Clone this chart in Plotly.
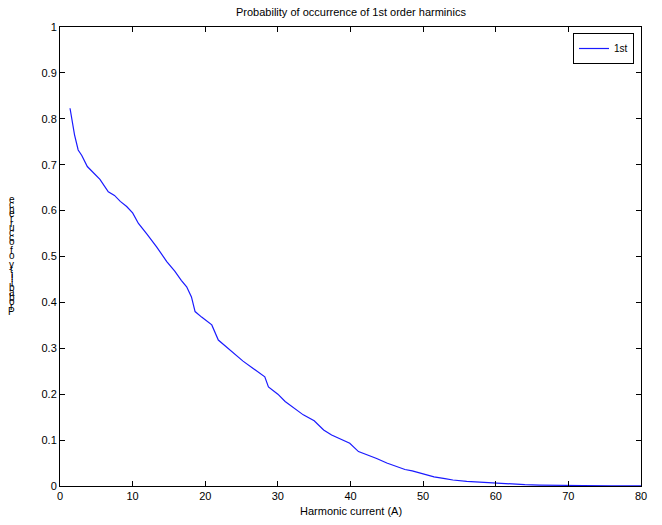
import plotly.graph_objects as go

current = [1.38, 2.0, 2.5, 3.0, 3.76, 4.5, 5.5, 6.65, 7.5, 8.3, 9.18, 10.0, 10.8, 12.0, 13.3, 14.7, 15.8, 16.7, 17.44, 18.1, 18.6, 19.5, 20.9, 21.8, 22.8, 23.9, 25.2, 26.6, 27.5, 28.2, 28.7, 30.0, 31.0, 32.2, 33.5, 35.0, 36.3, 37.4, 38.6, 39.9, 41.1, 42.3, 43.6, 45.0, 46.4, 47.5, 48.5, 50.0, 51.5, 53.0, 54.1, 56.0, 58.0, 60.2, 62.0, 64.0, 66.0, 68.4, 72.0, 76.0, 80.0]
prob = [0.823, 0.765, 0.732, 0.72, 0.696, 0.685, 0.668, 0.641, 0.633, 0.62, 0.609, 0.595, 0.572, 0.548, 0.521, 0.489, 0.468, 0.448, 0.434, 0.412, 0.38, 0.368, 0.351, 0.318, 0.305, 0.289, 0.272, 0.256, 0.245, 0.238, 0.216, 0.2, 0.184, 0.17, 0.155, 0.142, 0.122, 0.111, 0.103, 0.093, 0.075, 0.068, 0.06, 0.05, 0.042, 0.036, 0.033, 0.027, 0.02, 0.016, 0.013, 0.01, 0.008, 0.006, 0.004, 0.003, 0.002, 0.001, 0.001, 0.0005, 0.0005]

x_ticks = [0, 10, 20, 30, 40, 50, 60, 70, 80]
y_ticks = [0, 0.1, 0.2, 0.3, 0.4, 0.5, 0.6, 0.7, 0.8, 0.9, 1]
y_tick_labels = ["0", "0.1", "0.2", "0.3", "0.4", "0.5", "0.6", "0.7", "0.8", "0.9", "1"]

title = "Probability of occurrence of 1st order harminics"
x_label = "Harmonic current (A)"
y_label = "Probability of occurrence"
series_name = "1st"

FONT = "Liberation Sans, Arial, sans-serif"

fig = go.Figure()
fig.add_trace(go.Scatter(x=current, y=prob, mode="lines", name=series_name,
                         line=dict(color="#1a1aff", width=1.2)))

# plot area geometry (pixels) for placing stacked y label
L, R, T, B = 60, 641, 27, 486
ann = []
n = len(y_label)
top_px, bot_px = 200, 311
step = (bot_px - top_px) / (n - 1)
for i, ch in enumerate(y_label):
    if ch == " ":
        continue
    ypx = bot_px - i * step
    ann.append(dict(text=ch, xref="paper", yref="paper",
                    x=(12 - L) / (R - L), y=(B - ypx) / (B - T),
                    xanchor="center", yanchor="middle", showarrow=False,
                    font=dict(family=FONT, size=10, color="black")))

ann.append(dict(text=title, xref="paper", yref="paper", x=0.5, y=(B - 12) / (B - T),
                xanchor="center", yanchor="middle", showarrow=False,
                font=dict(family=FONT, size=11, color="black")))
ann.append(dict(text=x_label, xref="paper", yref="paper", x=0.5, y=(B - 511) / (B - T),
                xanchor="center", yanchor="middle", showarrow=False,
                font=dict(family=FONT, size=11, color="black")))

fig.update_layout(
    width=662, height=525,
    margin=dict(l=L, r=662 - R, t=T, b=525 - B),
    paper_bgcolor="white", plot_bgcolor="white",
    font=dict(family=FONT, size=11, color="black"),
    showlegend=True,
    legend=dict(x=(634 - L) / (R - L), y=(B - 33) / (B - T), xanchor="right", yanchor="top",
                bordercolor="black", borderwidth=1, bgcolor="white",
                font=dict(family=FONT, size=10, color="black"),
                itemwidth=30, tracegroupgap=0),
    annotations=ann,
)
fig.update_xaxes(range=[0, 80], tickvals=x_ticks, ticks="inside", ticklen=5,
                 showline=True, linecolor="black", linewidth=1, mirror="ticks",
                 showgrid=False, zeroline=False, tickcolor="black",
                 tickfont=dict(family=FONT, size=11, color="black"))
fig.update_yaxes(range=[0, 1], tickvals=y_ticks, ticktext=y_tick_labels, ticks="inside", ticklen=5,
                 showline=True, linecolor="black", linewidth=1, mirror="ticks",
                 showgrid=False, zeroline=False, tickcolor="black",
                 tickfont=dict(family=FONT, size=11, color="black"))

fig.write_html("out.html")
